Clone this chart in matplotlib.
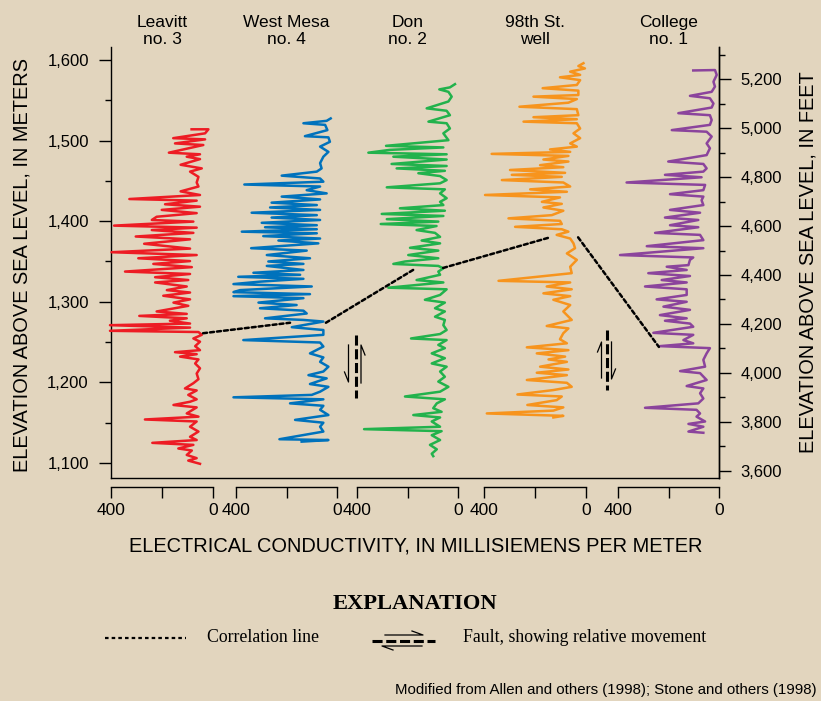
import matplotlib
matplotlib.use('Agg')
import matplotlib.pyplot as plt
import matplotlib.transforms as mtransforms
from matplotlib.lines import Line2D
from matplotlib.patches import ConnectionPatch

plt.rcParams['font.family'] = ['Liberation Sans', 'DejaVu Sans']

leavitt_elev = [1514, 1514, 1509, 1503, 1501.5, 1496.5, 1494.5, 1485, 1483, 1480, 1477, 1470, 1465.5,
                1461.5, 1455, 1448, 1443, 1437, 1432.5, 1427.5, 1425.5, 1421, 1418, 1414, 1410, 1405.5,
                1401.5, 1399.5, 1394.5, 1392, 1389, 1385.5, 1381, 1377.5, 1372, 1366, 1361.5, 1358,
                1354, 1350.5, 1347, 1343, 1337.5, 1334.5, 1330.5, 1327, 1324, 1319, 1314.5, 1311.5,
                1307.5, 1303, 1299, 1295, 1288, 1285, 1282.5, 1279.5, 1276.5, 1273, 1271, 1268, 1264,
                1262.5, 1259, 1254.5, 1250.5, 1245, 1240, 1237.5, 1235, 1232, 1228.5, 1223.5, 1217.5,
                1211, 1204, 1199, 1192.5, 1190, 1184.5, 1179, 1176, 1172, 1169, 1161.5, 1157.5, 1154,
                1151.5, 1145, 1139, 1132.5, 1128.5, 1125, 1122.5, 1118, 1115.5, 1110, 1106, 1103, 1099]
leavitt_cond = [84, 18, 31, 156, 31, 149, 38, 173, 51, 103, 51, 127, 44,
                90, 57, 64, 57, 127, 51, 328, 64, 188, 51, 201, 64, 221,
                240, 77, 388, 64, 240, 77, 303, 90, 270, 90, 398, 64,
                293, 90, 234, 83, 345, 90, 227, 97, 227, 103, 181, 90,
                195, 90, 155, 97, 221, 103, 289, 103, 169, 90, 404, 90, 404,
                57, 44, 77, 51, 70, 51, 149, 64, 129, 57, 70, 51,
                64, 57, 77, 110, 64, 97, 64, 90, 155, 64, 103, 57, 267,
                64, 90, 57, 90, 64, 238, 77, 136, 83, 103, 64, 97, 51]

westmesa_elev = [1527.5, 1524.5, 1521.5, 1519.5, 1513, 1505.5, 1504, 1498.5, 1492.5, 1486, 1480, 1472,
                 1465.5, 1461.5, 1456.5, 1453, 1449, 1445.5, 1443, 1438.5, 1434.5, 1430.5, 1427, 1423,
                 1420, 1417, 1414, 1410.5, 1407.5, 1404.5, 1401.5, 1398, 1395, 1392.5, 1390, 1387, 1385,
                 1381.5, 1378.5, 1376, 1372.5, 1366.5, 1363.5, 1358, 1354, 1350, 1347, 1344.5, 1339.5,
                 1336, 1333.5, 1331, 1328.5, 1325, 1322, 1319, 1314.5, 1312, 1309.5, 1307, 1304.5, 1299,
                 1296, 1292, 1289, 1285.5, 1279.5, 1277.5, 1275.5, 1268.5, 1265, 1259, 1252.5, 1249.5,
                 1244.5, 1236, 1231, 1225.5, 1219.5, 1213.5, 1209, 1205, 1198, 1194.5, 1188.5, 1184.5,
                 1181.5, 1179, 1174, 1171, 1166, 1159.5, 1153.5, 1150, 1145, 1139, 1129.5, 1128.5, 1126.5]
westmesa_cond = [25, 41, 133, 47, 38, 127, 34, 28, 67, 34, 54, 67,
                 61, 80, 219, 67, 54, 367, 67, 120, 41, 219, 67, 259,
                 80, 265, 67, 338, 80, 259, 67, 298, 80, 285, 80, 377, 80,
                 292, 67, 232, 74, 340, 120, 278, 107, 272, 133, 278, 133,
                 331, 146, 391, 133, 305, 410, 100, 384, 410, 107, 410, 133, 311,
                 160, 305, 133, 120, 285, 133, 54, 179, 54, 54, 371, 67,
                 54, 107, 54, 67, 34, 54, 113, 41, 107, 34, 67, 100,
                 410, 54, 186, 54, 67, 34, 166, 54, 67, 54, 228, 34, 140]

don_elev = [1570, 1566, 1563.5, 1560.5, 1554.5, 1548.5, 1540, 1537, 1531.5, 1523.5, 1521.5, 1515, 1509,
            1500.5, 1493.5, 1491.5, 1488.5, 1485, 1483, 1480, 1476.5, 1471, 1468.5, 1465.5, 1462.5,
            1459.5, 1456, 1451, 1447, 1442, 1439.5, 1434.5, 1428.5, 1424, 1420, 1416, 1413, 1409,
            1406.5, 1402.5, 1399.5, 1396.5, 1394, 1389, 1385.5, 1380.5, 1376, 1372.5, 1367, 1363.5,
            1358, 1354, 1350, 1347, 1344.5, 1341.5, 1337.5, 1333.5, 1327, 1324, 1317.5, 1315.5, 1308.5,
            1302.5, 1299, 1292, 1288, 1281.5, 1277.5, 1271, 1265, 1260, 1254.5, 1252.5, 1246.5, 1242.5,
            1236, 1230, 1223.5, 1219.5, 1213.5, 1207, 1201, 1194.5, 1188.5, 1182.5, 1179, 1174, 1168,
            1163.5, 1159.5, 1156.5, 1151.5, 1145, 1142, 1139.5, 1134.5, 1128.5, 1122.5, 1117, 1111.5, 1108.5]
don_cond = [12, 32, 74, 38, 25, 38, 124, 45, 32, 117, 45, 32, 58,
            38, 285, 58, 269, 355, 45, 256, 45, 263, 45, 243, 52,
            157, 71, 45, 71, 282, 52, 71, 45, 71, 58, 230, 52, 302,
            58, 282, 78, 306, 85, 164, 91, 71, 144, 71, 190, 78,
            197, 78, 210, 256, 78, 58, 78, 71, 164, 58, 276, 45, 71,
            131, 52, 91, 52, 91, 52, 58, 45, 71, 186, 45, 78, 52,
            104, 52, 104, 45, 71, 52, 78, 38, 71, 210, 52, 84, 98,
            65, 177, 71, 104, 71, 372, 65, 104, 71, 111, 84, 104, 98]

st98_elev = [1596, 1592.5, 1589.5, 1585.5, 1581.5, 1578.5, 1575, 1569, 1565, 1562, 1556.5, 1554.5, 1551.5,
             1547, 1542, 1539, 1531.5, 1529, 1526.5, 1523.5, 1521.5, 1515, 1509, 1503, 1496.5, 1492.5,
             1489, 1486, 1483.5, 1481, 1476.5, 1474, 1469.5, 1467, 1463.5, 1460, 1457.5, 1455, 1451, 1448,
             1443, 1439.5, 1436.5, 1432.5, 1429.5, 1424, 1421.5, 1417, 1413, 1407.5, 1403.5, 1400.5,
             1396.5, 1393, 1390, 1387, 1383, 1378.5, 1372.5, 1366.5, 1360, 1352, 1343.5, 1335.5, 1326,
             1324, 1319, 1315.5, 1310.5, 1307, 1302.5, 1296, 1288, 1277.5, 1270, 1267, 1261, 1253.5,
             1248.5, 1243.5, 1240, 1236, 1232, 1228.5, 1225.5, 1219.5, 1216, 1212, 1209, 1203, 1199.5,
             1194.5, 1190.5, 1185, 1182.5, 1178, 1172, 1169, 1165, 1161.5, 1158.5, 1156.5]
st98_cond = [10, 30, 4, 62, 23, 102, 23, 36, 170, 30, 30, 206, 36,
             69, 261, 36, 30, 206, 36, 245, 36, 23, 49, 23, 62, 36,
             141, 62, 370, 69, 167, 69, 180, 89, 298, 82, 291, 95, 330, 89,
             62, 219, 75, 396, 102, 173, 95, 167, 89, 134, 304, 102,
             95, 278, 95, 69, 115, 62, 49, 43, 75, 36, 62, 56, 343,
             62, 154, 56, 167, 62, 128, 62, 89, 56, 154, 69, 89, 102,
             75, 232, 69, 193, 82, 147, 75, 180, 69, 193, 75, 232, 75,
             56, 128, 269, 95, 115, 230, 89, 128, 389, 89, 128]

college_elev = [1587, 1587.5, 1581.5, 1573, 1567, 1560.5, 1555.5, 1552.5, 1546, 1541, 1534, 1531.5, 1525.5,
                1519.5, 1513, 1511, 1505, 1496.5, 1490.5, 1482, 1474, 1471, 1465.5, 1461.5, 1457.5, 1454.5,
                1448, 1445, 1438.5, 1433.5, 1430.5, 1426, 1420, 1414, 1410.5, 1404.5, 1401.5, 1395, 1392.5,
                1385.5, 1383, 1376.5, 1369, 1366.5, 1358, 1355, 1352, 1345.5, 1343.5, 1339.5, 1335.5, 1332,
                1327, 1324, 1319, 1315.5, 1308.5, 1303, 1300, 1294, 1290, 1283.5, 1279.5, 1276.5, 1273,
                1269, 1261.5, 1259, 1252.5, 1248.5, 1245, 1242.5, 1236, 1228, 1219.5, 1214, 1211.5, 1203,
                1195.5, 1192.5, 1186.5, 1180, 1174, 1168.5, 1166, 1161.5, 1157.5, 1151.5, 1148.5, 1145,
                1139, 1137.5]
college_cond = [102, 16, 9, 22, 16, 29, 115, 36, 22, 29, 161, 36, 29,
                36, 187, 49, 29, 49, 36, 49, 201, 62, 49, 62, 214, 69,
                366, 55, 62, 194, 62, 69, 62, 194, 75, 214, 82, 194, 82,
                253, 75, 62, 286, 62, 392, 102, 115, 121, 207, 128, 280, 115,
                227, 128, 293, 128, 128, 247, 128, 220, 115, 234, 128, 214, 115,
                102, 260, 102, 141, 102, 234, 36, 49, 62, 55, 154, 75, 49,
                128, 62, 75, 62, 82, 293, 89, 75, 89, 55, 121, 62,
                121, 62]

wells = ['Leavitt\nno. 3', 'West Mesa\nno. 4', 'Don\nno. 2', '98th St.\nwell', 'College\nno. 1']
elevs = [leavitt_elev, westmesa_elev, don_elev, st98_elev, college_elev]
conds = [leavitt_cond, westmesa_cond, don_cond, st98_cond, college_cond]
colors = ['#ed1c24', '#0072bc', '#22b24c', '#f7941d', '#8b449c']

# correlation line pieces: (well A, cond A, elev A, well B, cond B, elev B)
corr_segments = [(0, 39, 1261, 1, 186, 1274),
                 (1, 44, 1274, 2, 170, 1341),
                 (2, 59, 1342, 3, 141, 1380),
                 (3, 31, 1380, 4, 238, 1244)]

m_ticks = [1100, 1200, 1300, 1400, 1500, 1600]
ft_ticks = [3600, 3800, 4000, 4200, 4400, 4600, 4800, 5000, 5200]

# ---- layout (pixels of an 821 x 701 image) ----
W, H = 821, 701
BG = '#e2d5be'
fig = plt.figure(figsize=(W / 100, H / 100), dpi=100, facecolor=BG)


def box(x0, y0, x1, y1):
    return [x0 / W, 1 - y1 / H, (x1 - x0) / W, (y1 - y0) / H]


px = mtransforms.Affine2D().scale(1 / W, -1 / H).translate(0, 1) + fig.transFigure


def seg(xs, ys, **kw):
    kw.setdefault('color', 'k')
    fig.add_artist(Line2D(xs, ys, transform=px, **kw))


YLIM = (1081.4, 1616.1)
TOP, BOT = 47, 478

# main frame with the meter axis
ax = fig.add_axes(box(111, TOP, 719, BOT))
ax.set_facecolor('none')
ax.set_ylim(YLIM)
ax.set_xticks([])
ax.spines['top'].set_visible(False)
for s in ['left', 'right', 'bottom']:
    ax.spines[s].set_linewidth(1.0)
ax.set_yticks(m_ticks)
ax.set_yticklabels([f'{v:,}' for v in m_ticks])
ax.set_yticks([v + 50 for v in m_ticks[:-1]], minor=True)
ax.tick_params(axis='y', which='major', length=8.5, width=1, pad=7.5, labelsize=12)
ax.tick_params(axis='y', which='minor', length=4.3, width=1)

# feet axis on the right
ax2 = ax.twinx()
ax2.set_ylim(3571, 5331)
for s in ['left', 'top', 'bottom']:
    ax2.spines[s].set_visible(False)
ax2.spines['right'].set_linewidth(1.0)
ax2.set_yticks(ft_ticks)
ax2.set_yticklabels([f'{v:,}' for v in ft_ticks])
ax2.set_yticks([v + 100 for v in ft_ticks], minor=True)
ax2.tick_params(axis='y', which='major', length=8.5, width=1, pad=7, labelsize=12)
ax2.tick_params(axis='y', which='minor', length=4.3, width=1)

# one track per well
tracks = [(111, 213), (236, 337), (357, 458), (484, 586), (618, 719)]
taxes = []
for name, (x0, x1), e, c, col in zip(wells, tracks, elevs, conds, colors):
    t = fig.add_axes(box(x0, TOP, x1, BOT))
    t.patch.set_visible(False)
    t.set_xlim(400, 0)
    t.set_ylim(YLIM)
    for s in ['left', 'right', 'top']:
        t.spines[s].set_visible(False)
    t.spines['bottom'].set_position(('outward', 6.3))
    t.spines['bottom'].set_linewidth(1.0)
    t.set_yticks([])
    t.set_xticks([400, 200, 0])
    t.set_xticklabels(['400', '', '0'])
    t.tick_params(axis='x', length=8, width=1, pad=4, labelsize=12.5)
    t.plot(c, e, color=col, lw=1.8, clip_on=False, solid_joinstyle='round')
    fig.text((x0 + x1) / 2 / W, 1 - 31 / H, name, ha='center', va='center',
             fontsize=12.5, linespacing=1.15)
    taxes.append(t)

# correlation lines
for a, ca, ea, b, cb, eb in corr_segments:
    con = ConnectionPatch(xyA=(ca, ea), coordsA='data', axesA=taxes[a],
                          xyB=(cb, eb), coordsB='data', axesB=taxes[b],
                          color='k', lw=1.8, linestyle=(0, (1.6, 1.2)))
    fig.add_artist(con)

# fault symbols
fault_dash = dict(lw=2.2, linestyle=(0, (3.3, 1.2)))
seg([355.5, 355.5], [335, 398], **fault_dash)
seg([348.5, 348.5, 344.5], [345, 382, 372], lw=0.9)
seg([361, 361, 365], [383, 345, 355], lw=0.9)

seg([606.5, 606.5], [330, 390], **fault_dash)
seg([597.5, 601.5, 601.5], [352, 342, 378], lw=0.9)
seg([611.5, 611.5, 615.5], [342, 379, 369], lw=0.9)

# axis titles
fig.text(22 / W, 1 - 265 / H, 'ELEVATION ABOVE SEA LEVEL, IN METERS', rotation=90,
         ha='center', va='center', fontsize=14.4)
fig.text(808 / W, 1 - 262 / H, 'ELEVATION ABOVE SEA LEVEL, IN FEET', rotation=90,
         ha='center', va='center', fontsize=14.4)
fig.text(416 / W, 1 - 546 / H, 'ELECTRICAL CONDUCTIVITY, IN MILLISIEMENS PER METER',
         ha='center', va='center', fontsize=14.4)

# explanation
serif = ['Liberation Serif', 'DejaVu Serif']
fig.text(415 / W, 1 - 604 / H, 'EXPLANATION', family=serif, weight='bold',
         fontsize=16.2, ha='center', va='center')
seg([105, 186], [638, 638], lw=1.6, linestyle=(0, (1.6, 1.4)))
fig.text(207 / W, 1 - 638 / H, 'Correlation line', family=serif, fontsize=12.8,
         ha='left', va='center')
seg([372, 435], [640.5, 640.5], **fault_dash)
seg([385, 423, 412], [635, 635, 631], lw=0.9)
seg([393, 382, 422], [650, 646, 646], lw=0.9)
fig.text(463 / W, 1 - 638 / H, 'Fault, showing relative movement', family=serif,
         fontsize=12.8, ha='left', va='center')

fig.text(817 / W, 1 - 690 / H,
         'Modified from Allen and others (1998); Stone and others (1998)',
         ha='right', va='center', fontsize=10.8)

fig.savefig('out.png', dpi=100, facecolor=BG)
